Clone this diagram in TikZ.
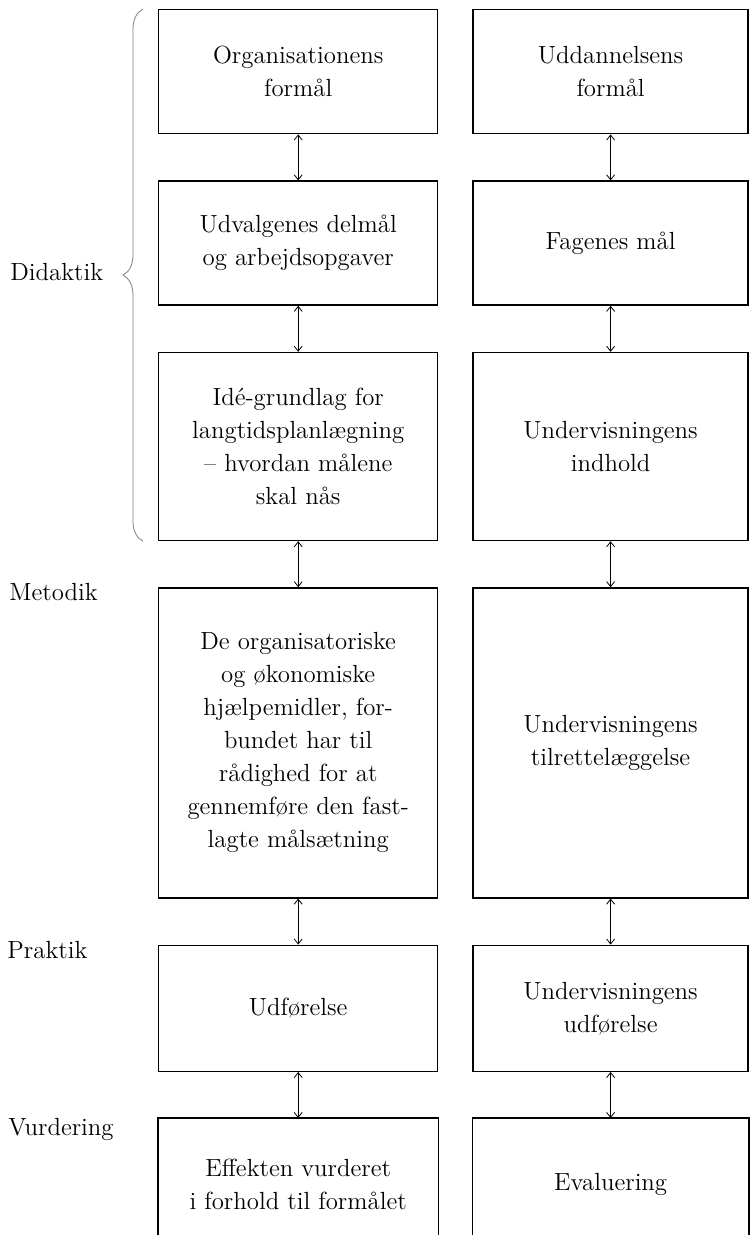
\documentclass[tikz,border=0pt]{standalone}
\usepackage{fontspec}
\usetikzlibrary{arrows.meta, positioning, decorations.pathreplacing}
\newcommand\diagfont{\fontsize{12.4}{16.5}\selectfont}
\tikzset{
  cell/.style={minimum width=#1, inner sep=0pt, align=center, font=\diagfont},
  lcol/.style={cell=139.5pt, draw, line width=0.7pt},
  rcol/.style={cell=137.5pt, draw, line width=0.7pt},
  frame/.style={line width=0.7pt},
  link/.style={{Straight Barb[length=2.5pt,width=4pt]}-{Straight Barb[length=2.5pt,width=4pt]},
               line width=0.4pt},
  lbl/.style={font=\diagfont, anchor=base west, inner sep=0pt},
}

\begin{document}
\begin{tikzpicture}[node distance=23pt]
  \useasboundingbox (0,0) rectangle (374.5pt,-617.5pt);
  % left column
  \node[lcol, minimum height=62pt, anchor=north west] (org1) at (79pt,-4.5pt)
    {Organisationens\\formål};
  \node[lcol, minimum height=62pt, below=of org1] (org2)
    {Udvalgenes delmål\\og arbejdsopgaver};
  \node[lcol, minimum height=94pt, below=of org2] (org3)
    {Idé-grundlag for\\langtidsplanlægning\\-- hvordan målene\\skal nås};
  \node[lcol, minimum height=155pt, below=of org3] (org4)
    {De organisatoriske\\og økonomiske\\hjælpemidler, for-\\bundet har til\\rådighed for at\\gennemføre den fast-\\lagte målsætning};
  \node[lcol, minimum height=63pt, below=of org4] (org5) {Udførelse};
  \node[lcol, draw=none, minimum height=66pt, below=of org5] (org6)
    {Effekten vurderet\\i forhold til formålet};
  % right column
  \node[rcol, minimum height=62pt, right=17pt of org1] (udd1) {Uddannelsens\\formål};
  \node[rcol, minimum height=62pt, right=17pt of org2] (udd2) {Fagenes mål};
  \node[rcol, minimum height=94pt, right=17pt of org3] (udd3) {Undervisningens\\indhold};
  \node[rcol, minimum height=155pt, right=17pt of org4] (udd4) {Undervisningens\\tilrettelæggelse};
  \node[rcol, minimum height=63pt, right=17pt of org5] (udd5) {Undervisningens\\udførelse};
  \node[rcol, draw=none, minimum height=66pt, right=17pt of org6] (udd6) {Evaluering};
  % open bottom boxes
  \draw[frame] (org6.south west) |- (org6.north east) -- (org6.south east);
  \draw[frame] (udd6.south west) |- (udd6.north east) -- (udd6.south east);
  % connectors
  \foreach \a/\b in {1/2, 2/3, 3/4, 4/5, 5/6} {
    \draw[link] (org\a) -- (org\b);
    \draw[link] (udd\a) -- (udd\b);
  }
  % side labels
  \draw[gray, line width=0.4pt, decorate, decoration={brace, amplitude=10pt}]
    ([xshift=-7.5pt]org3.south west) -- ([xshift=-7.5pt]org1.north west);
  \node[lbl] (didaktik) at (5pt,-140.5pt) {Didaktik};
  \node[lbl] (metodik) at (4.5pt,-300pt) {Metodik};
  \node[lbl] (praktik) at (3.5pt,-479pt) {Praktik};
  \node[lbl] (vurdering) at (4pt,-567.5pt) {Vurdering};
\end{tikzpicture}
\end{document}
